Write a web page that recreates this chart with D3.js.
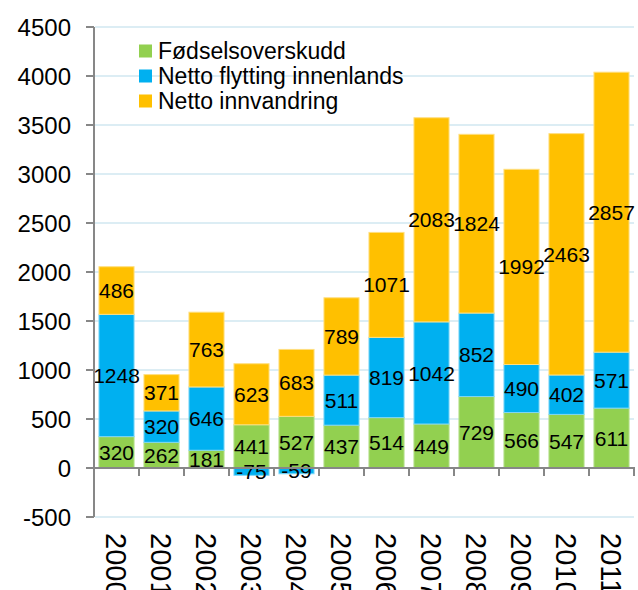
<!DOCTYPE html>
<html>
<head>
<meta charset="utf-8">
<script src="https://cdn.jsdelivr.net/npm/d3@7"></script>
<style>
  body { margin: 0; background: #fff; }
  text { font-family: "Liberation Sans", Arial, Helvetica, sans-serif; fill: #000; }
</style>
</head>
<body>
<div id="chart"></div>
<script>
var years = ['2000', '2001', '2002', '2003', '2004', '2005', '2006', '2007', '2008', '2009', '2010', '2011'];
var seriesNames = ['Fødselsoverskudd', 'Netto flytting innenlands', 'Netto innvandring'];
var fodsel = [320, 262, 181, 441, 527, 437, 514, 449, 729, 566, 547, 611];
var flytting = [1248, 320, 646, -75, -59, 511, 819, 1042, 852, 490, 402, 571];
var innvandring = [486, 371, 763, 623, 683, 789, 1071, 2083, 1824, 1992, 2463, 2857];
var yTicks = [-500, 0, 500, 1000, 1500, 2000, 2500, 3000, 3500, 4000, 4500];

var colors = ['#92d050', '#00b0f0', '#ffc000'];
var strokes = ['#b5e08a', '#7fd7f7', '#ffdf80'];

var width = 638;
var height = 590;

// build rows for d3.stack
var rows = years.map(function(y, i) {
	return { year: y, s0: fodsel[i], s1: flytting[i], s2: innvandring[i] };
});

var stack = d3.stack()
	.keys(['s0', 's1', 's2'])
	.offset(d3.stackOffsetDiverging);
var layers = stack(rows);

var x = d3.scaleBand()
	.domain(years)
	.range([94, 634])
	.paddingInner(0.22)
	.paddingOuter(0.11);

var y = d3.scaleLinear()
	.domain([-500, 4500])
	.range([517, 27]);

var svg = d3.select('#chart')
	.append('svg')
	.attr('width', width)
	.attr('height', height);

// gridlines
svg.append('g')
	.selectAll('line')
	.data(yTicks)
	.enter()
	.append('line')
	.attr('x1', 95)
	.attr('x2', 634)
	.attr('y1', function(d) { return y(d); })
	.attr('y2', function(d) { return y(d); })
	.attr('stroke', '#dcedf4')
	.attr('stroke-width', 2);

// bars
var layer = svg.selectAll('.layer')
	.data(layers)
	.enter()
	.append('g')
	.attr('class', 'layer')
	.attr('fill', function(d, i) { return colors[i]; })
	.attr('stroke', function(d, i) { return strokes[i]; });

layer.selectAll('rect')
	.data(function(d) { return d; })
	.enter()
	.append('rect')
	.attr('x', function(d) { return x(d.data.year); })
	.attr('width', x.bandwidth())
	.attr('y', function(d) { return y(Math.max(d[0], d[1])); })
	.attr('height', function(d) { return Math.abs(y(d[0]) - y(d[1])); })
	.attr('stroke-width', 1);

// value labels in the middle of each segment
layer.selectAll('text')
	.data(function(d) {
		return d.map(function(p) { p.key = d.key; return p; });
	})
	.enter()
	.append('text')
	.attr('x', function(d) { return x(d.data.year) + x.bandwidth() / 2; })
	.attr('y', function(d) { return y((d[0] + d[1]) / 2); })
	.attr('dy', '0.36em')
	.attr('text-anchor', 'middle')
	.attr('stroke', 'none')
	.style('font-size', '21px')
	.text(function(d) { return d.data[d.key]; });

// y axis
var axisColor = '#878787';
svg.append('line')
	.attr('x1', 94).attr('x2', 94)
	.attr('y1', y(4500)).attr('y2', y(-500))
	.attr('stroke', axisColor)
	.attr('stroke-width', 2);

svg.append('g')
	.selectAll('line')
	.data(yTicks)
	.enter()
	.append('line')
	.attr('x1', 86)
	.attr('x2', 94)
	.attr('y1', function(d) { return y(d); })
	.attr('y2', function(d) { return y(d); })
	.attr('stroke', axisColor)
	.attr('stroke-width', 2);

svg.append('g')
	.selectAll('text')
	.data(yTicks)
	.enter()
	.append('text')
	.attr('x', 71)
	.attr('y', function(d) { return y(d); })
	.attr('dy', '0.36em')
	.attr('text-anchor', 'end')
	.style('font-size', '24px')
	.text(function(d) { return d; });

// x axis at zero
svg.append('line')
	.attr('x1', 93).attr('x2', 635)
	.attr('y1', y(0)).attr('y2', y(0))
	.attr('stroke', axisColor)
	.attr('stroke-width', 2);

var step = x.step();
svg.append('g')
	.selectAll('line')
	.data(years)
	.enter()
	.append('line')
	.attr('x1', function(d) { return x(d) - x.paddingInner() * step / 2 + step; })
	.attr('x2', function(d) { return x(d) - x.paddingInner() * step / 2 + step; })
	.attr('y1', y(0))
	.attr('y2', y(0) + 8)
	.attr('stroke', axisColor)
	.attr('stroke-width', 2);

// year labels, rotated
svg.append('g')
	.selectAll('text')
	.data(years)
	.enter()
	.append('text')
	.attr('transform', function(d) {
		return 'translate(' + (x(d) + x.bandwidth() / 2) + ',533) rotate(90)';
	})
	.attr('dy', '0.36em')
	.attr('text-anchor', 'start')
	.style('font-size', '29px')
	.text(function(d) { return d; });

// legend
var legend = svg.append('g')
	.selectAll('g')
	.data(seriesNames)
	.enter()
	.append('g')
	.attr('transform', function(d, i) { return 'translate(139,' + (51 + i * 25) + ')'; });

legend.append('rect')
	.attr('x', 0)
	.attr('y', -6.5)
	.attr('width', 13)
	.attr('height', 13)
	.attr('fill', function(d, i) { return colors[i]; });

legend.append('text')
	.attr('x', 19)
	.attr('y', 0)
	.attr('dy', '0.36em')
	.style('font-size', '23px')
	.text(function(d) { return d; });
</script>
</body>
</html>
